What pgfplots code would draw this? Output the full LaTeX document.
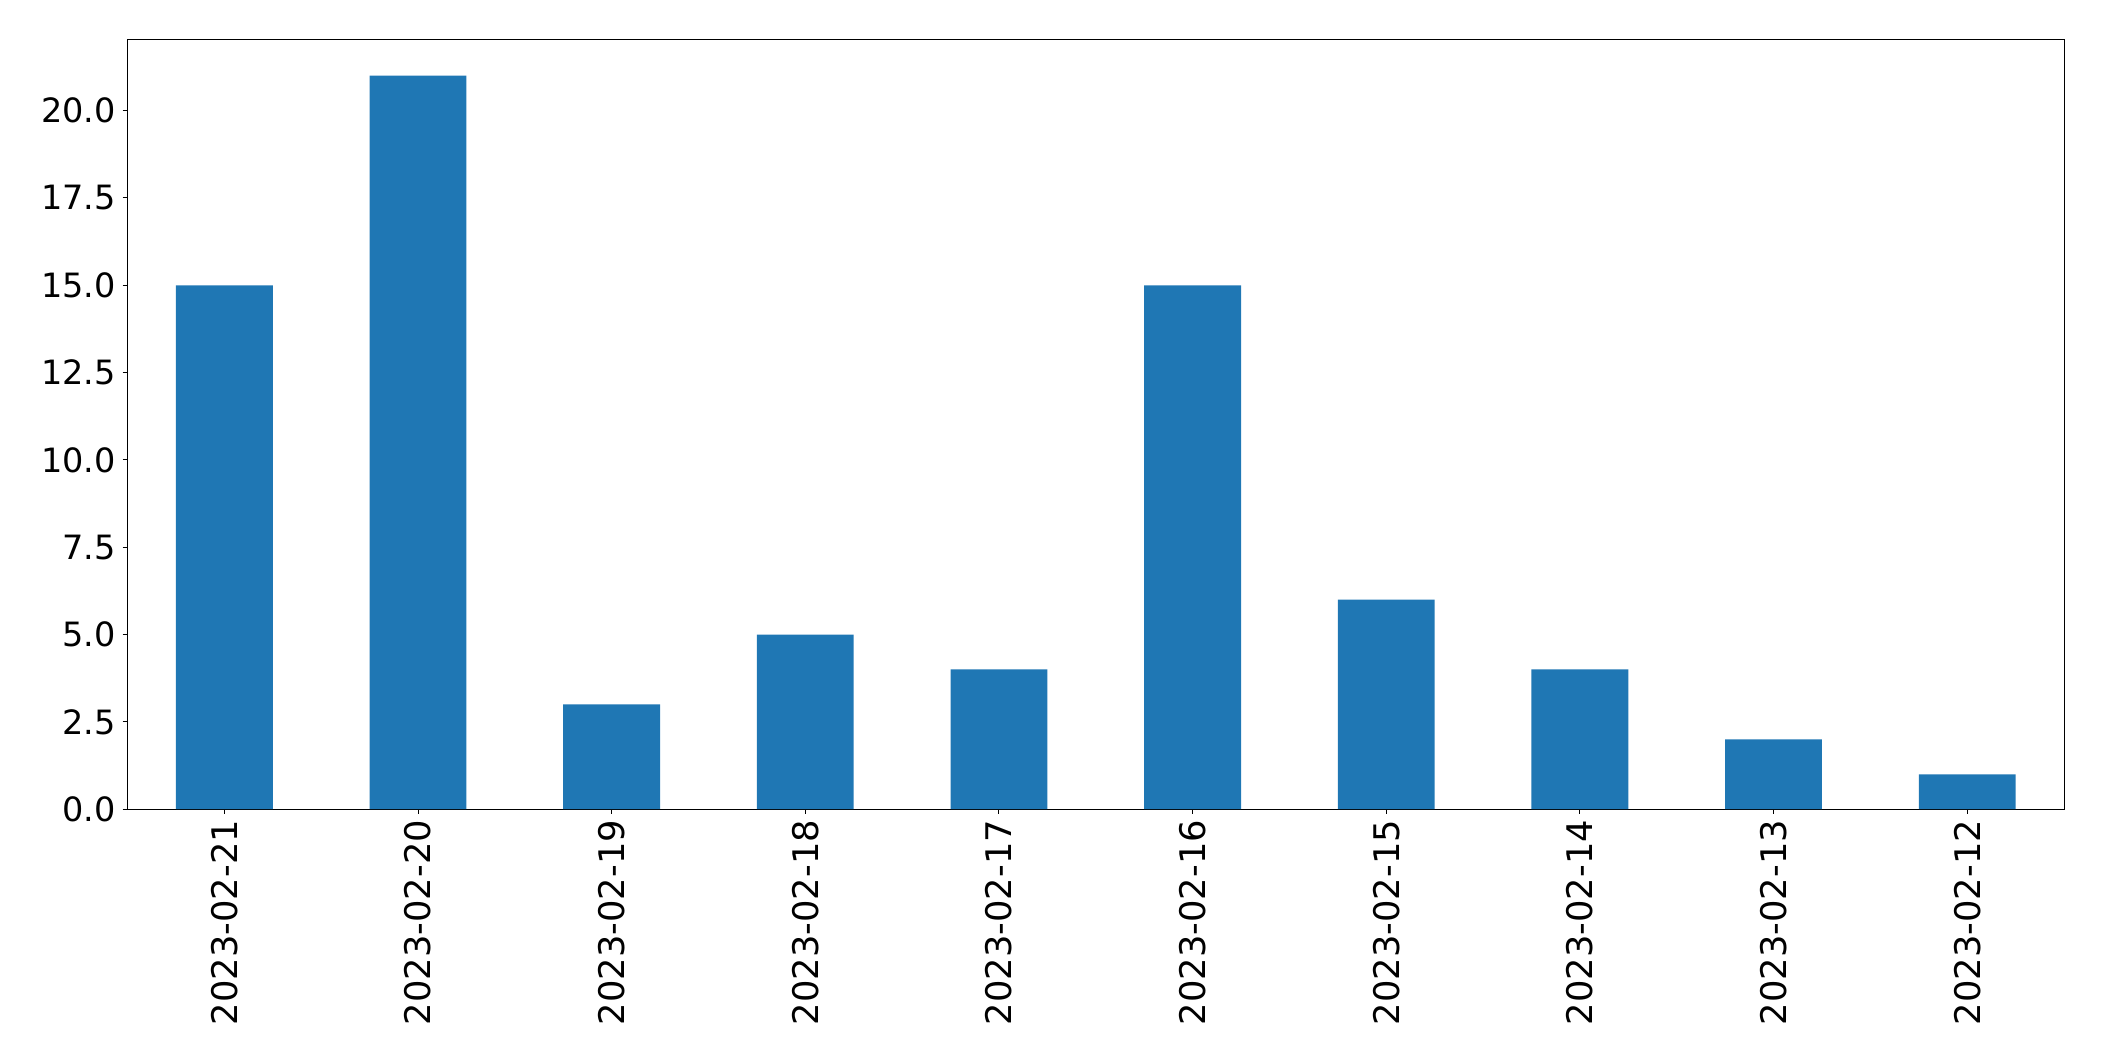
\documentclass[border=0pt]{standalone}
\usepackage{pgfplots}
\pgfplotsset{compat=1.18}
\usepackage{fontspec}
\setmainfont{DejaVu Sans}
\definecolor{mplblue}{HTML}{1F77B4}

\begin{document}
\begin{tikzpicture}
\begin{axis}[
    width=968bp, height=385bp,
    scale only axis,
    xmin=-0.5, xmax=9.5,
    ymin=0, ymax=22.05,
    xtick={0,...,9},
    xticklabels={2023-02-21,2023-02-20,2023-02-19,2023-02-18,2023-02-17,2023-02-16,2023-02-15,2023-02-14,2023-02-13,2023-02-12},
    ytick={0,2.5,...,20},
    yticklabel style={font=\fontsize{16.8}{19}\selectfont,
        /pgf/number format/fixed, /pgf/number format/fixed zerofill, /pgf/number format/precision=1},
    /pgf/number format/assume math mode=true,
    xticklabel style={font=\fontsize{17.7}{21}\selectfont, rotate=90, anchor=east, inner sep=2.8bp},
    tick align=outside,
    tick pos=left,
    major tick length=2.4bp,
    axis line style={line width=0.5bp},
    every tick/.style={black, line width=0.5bp},
    ]
    \addplot[ybar, bar width=0.5, fill=mplblue, draw=none] coordinates {
        (0,15) (1,21) (2,3) (3,5) (4,4) (5,15) (6,6) (7,4) (8,2) (9,1)
    };
    \coordinate (sw) at (rel axis cs:0,0);
    \coordinate (ne) at (rel axis cs:1,1);
\end{axis}
\path (sw) ++(-63.75bp,-125.85bp);
\path (ne) ++(20bp,19.5bp);
\end{tikzpicture}
\end{document}
